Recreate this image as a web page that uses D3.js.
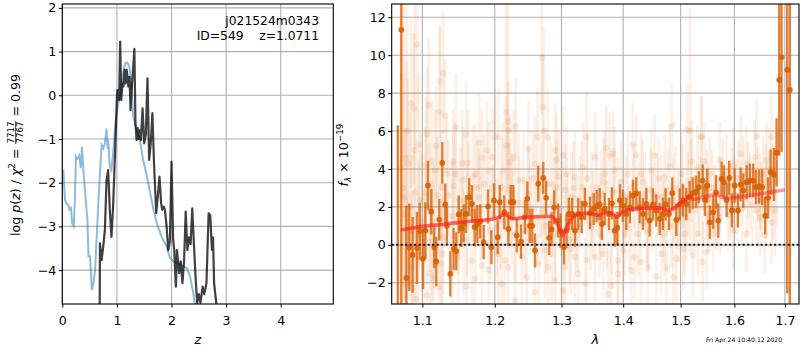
<!DOCTYPE html>
<html><head><meta charset="utf-8">
<script src="https://cdn.jsdelivr.net/npm/d3@7"></script>
<style>body{margin:0;background:#fff}svg text{font-family:"DejaVu Sans",sans-serif}</style>
</head><body><svg id="c" width="800" height="350"></svg>
<script>
// ---------- DATA ----------
const zTicks = [0,1,2,3,4];
const lpTicks = [-4,-3,-2,-1,0,1,2];
const lamTicks = [1.1,1.2,1.3,1.4,1.5,1.6,1.7];
const fTicks = [-2,0,2,4,6,8,10,12];

const pzBlue = [[0.00,-1.79],[0.02,-1.75],[0.05,-2.40],[0.08,-2.49],[0.11,-2.50],[0.13,-2.62],[0.16,-2.58],[0.18,-2.93],[0.21,-3.00],[0.23,-2.40],[0.25,-1.40],[0.28,-1.45],[0.31,-1.38],[0.34,-1.67],[0.36,-1.18],[0.39,-1.78],[0.43,-2.40],[0.46,-2.85],[0.48,-3.69],[0.51,-3.69],[0.54,-4.46],[0.57,-4.30],[0.60,-4.00],[0.63,-3.24],[0.66,-2.47],[0.69,-1.78],[0.72,-1.14],[0.75,-1.21],[0.78,-1.10],[0.81,-0.76],[0.83,-1.23],[0.84,-1.02],[0.87,-1.63],[0.90,-1.71],[0.93,-1.33],[0.98,-0.57],[1.03,-0.15],[1.07,0.05],[1.10,0.43],[1.15,0.73],[1.19,0.75],[1.23,0.65],[1.27,0.12],[1.30,-0.49],[1.36,-0.79],[1.42,-1.02],[1.48,-1.48],[1.55,-1.86],[1.61,-2.24],[1.67,-2.62],[1.73,-2.93],[1.82,-3.24],[1.91,-3.46],[1.97,-3.72],[2.05,-3.82],[2.16,-3.88],[2.28,-3.95],[2.34,-4.15],[2.40,-4.53],[2.44,-4.90],[2.47,-5.40]];

const pzDark = [[0.680,-5.5],[0.685,-4.75],[0.69,-3.39],[0.72,-3.77],[0.75,-3.46],[0.78,-3.08],[0.81,-1.94],[0.84,-1.71],[0.87,-2.62],[0.90,-3.24],[0.93,-2.55],[0.97,-1.18],[1.00,-0.03],[1.01,0.12],[1.04,-0.11],[1.06,1.23],[1.08,-0.11],[1.10,0.27],[1.12,0.20],[1.14,0.58],[1.16,0.27],[1.18,0.58],[1.21,0.20],[1.23,0.42],[1.25,-0.34],[1.27,0.12],[1.32,1.06],[1.34,-0.64],[1.36,-1.02],[1.38,-0.75],[1.40,-1.00],[1.42,-0.80],[1.44,-1.02],[1.47,-0.30],[1.50,-1.10],[1.53,-0.90],[1.56,0.39],[1.59,-1.48],[1.62,-1.10],[1.65,-0.41],[1.68,-1.56],[1.72,-2.70],[1.75,-2.30],[1.78,-1.86],[1.81,-2.47],[1.83,-2.62],[1.86,-2.55],[1.88,-2.62],[1.91,-3.00],[1.94,-3.54],[1.97,-3.35],[2.00,-1.52],[2.03,-3.31],[2.05,-3.54],[2.08,-4.38],[2.10,-3.54],[2.14,-4.07],[2.17,-3.80],[2.20,-4.30],[2.23,-3.80],[2.26,-2.66],[2.29,-3.54],[2.32,-3.25],[2.35,-3.40],[2.38,-2.59],[2.41,-3.40],[2.44,-4.15],[2.47,-4.76],[2.50,-4.55],[2.53,-4.75],[2.57,-4.38],[2.60,-4.55],[2.64,-4.30],[2.68,-2.70],[2.71,-2.75],[2.74,-3.54],[2.76,-3.25],[2.78,-4.30],[2.82,-4.76],[2.84,-5.5]];

// [lambda, flux, error]
const specStrong = [[1.0681,-4.0,10.3],[1.0726,11.34,15],[1.0791,-1.74,3.8],[1.0829,-0.13,2.3],[1.0873,-0.53,2.0],[1.0930,-0.16,1.9],[1.0966,0.72,1.5],[1.1009,-0.74,1.6],[1.1040,0.75,1.5],[1.1075,3.13,1.3],[1.1119,1.75,1.2],[1.1159,-0.13,1.1],[1.1186,-0.88,1.3],[1.1226,1.33,1.1],[1.1267,4.32,1.1],[1.1307,2.13,1.1],[1.1330,1.00,1.0],[1.1376,-1.53,1.2],[1.1422,-0.21,1.1],[1.1458,-0.34,1.0],[1.1491,1.60,1.0],[1.1527,0.88,1.0],[1.1560,1.14,1.0],[1.1593,1.63,1.0],[1.1638,2.51,1.0],[1.1676,2.16,1.0],[1.1714,0.93,1.0],[1.1751,1.10,1.0],[1.1793,1.24,0.9],[1.1841,0.14,0.9],[1.1903,2.02,0.9],[1.1950,-0.13,0.9],[1.1989,2.34,0.9],
[1.2042,0.40,0.9],[1.2071,2.25,0.9],[1.2138,1.72,0.9],[1.2197,0.84,0.9],[1.2232,2.25,0.9],[1.2270,2.25,0.9],[1.2320,0.49,0.9],[1.2384,0.17,0.9],[1.2443,1.46,0.9],[1.2478,2.44,0.9],[1.2514,1.00,0.9],[1.2553,1.00,0.9],[1.2593,-0.30,0.9],[1.2643,3.22,0.95],[1.2719,3.53,0.85],[1.2764,2.48,0.9],[1.2810,0.37,0.9],[1.2847,0.82,0.9],[1.2887,1.98,0.9],[1.2949,1.28,0.9],[1.2986,0.75,0.9],[1.3038,-0.13,0.9],[1.3080,0.75,0.9],[1.3116,1.63,0.85],[1.3168,1.63,0.85],[1.3213,0.75,0.85],[1.3265,1.63,0.85],[1.3319,1.46,0.85],[1.3372,2.16,0.85],[1.3453,1.68,0.85],[1.3513,1.90,0.85],[1.3561,2.04,0.85],
[1.3610,2.13,0.85],[1.3647,1.10,0.85],[1.3692,1.90,0.85],[1.3763,1.63,0.85],[1.3813,2.19,0.85],[1.3858,0.75,0.85],[1.3901,0.90,0.85],[1.3946,2.34,0.85],[1.3996,2.07,0.85],[1.4052,1.63,0.85],[1.4114,1.98,0.85],[1.4165,2.60,0.85],[1.4221,2.72,0.85],[1.4280,1.98,0.85],[1.4337,1.63,0.85],[1.4394,2.16,0.85],[1.4452,1.28,0.85],[1.4509,2.13,0.85],[1.4567,1.81,0.85],[1.4627,1.37,0.85],[1.4685,1.63,0.85],[1.4732,2.13,0.85],[1.4791,1.63,0.85],[1.4850,2.72,0.85],[1.4921,1.32,0.85],[1.4982,2.13,0.85],[1.5041,2.34,0.85],[1.5101,2.16,0.85],[1.5162,2.51,0.85],[1.5222,2.72,0.85],[1.5282,2.80,0.85],[1.5332,3.04,0.85],
[1.5401,3.39,0.85],[1.5444,2.37,0.85],[1.5487,3.13,0.9],[1.5536,1.19,0.9],[1.5599,1.72,0.9],[1.5649,2.77,0.9],[1.5692,1.28,0.9],[1.5756,3.48,0.9],[1.5800,3.30,0.9],[1.5851,2.37,0.9],[1.5900,3.53,0.9],[1.5952,1.81,0.9],[1.6004,3.13,0.9],[1.6068,1.81,0.9],[1.6120,3.18,0.9],[1.6171,2.86,0.9],[1.6236,3.30,0.9],[1.6300,3.39,0.9],[1.6365,3.39,0.9],[1.6418,3.04,0.9],[1.6483,3.07,0.9],[1.6543,3.04,0.95],[1.6602,1.54,1.0],[1.6662,2.48,1.1],[1.6710,3.83,1.2],[1.6777,3.71,1.4],[1.6831,4.87,1.8],[1.6884,8.70,4.0],[1.6932,9.89,5.0],[1.7047,9.23,11.8],[1.7101,8.17,14]];

const specFaint = [[1.0930,10.57,4.0],[1.0853,7.47,4.5],[1.0887,7.17,4.0],[1.1085,7.38,3.5],[1.1238,8.63,3.0],[1.1279,9.05,3.2],[1.1307,6.8,3.0],[1.0787,4.57,5.0],[1.0813,4.27,4.5],[1.0953,5.29,3.8],[1.1062,5.85,3.5],[1.1186,5.2,3.2],[1.1453,6.2,2.8],[1.1593,5.82,2.8],[1.1779,5.38,2.6],[1.1888,4.97,2.6],[1.1999,5.68,2.6],[1.1817,4.59,2.6],[1.1413,4.36,2.8],[1.1537,4.3,2.8],[1.1620,4.3,2.8],[1.1722,3.74,2.7],[1.1444,3.74,2.8],[1.1330,3.74,3.0],[1.1172,3.92,3.2],[1.0908,2.77,3.8],[1.1040,2.72,3.5],[1.0778,1.63,4.5],[1.1129,4.45,3.2],[1.1959,4.62,2.6],[1.1913,3.92,2.6],[1.1747,3.04,2.7],[1.1513,2.34,2.8],[1.1262,3.04,3.0],[1.0974,2.34,3.6],[1.0864,0.75,4.0],[1.1129,0.23,3.2],[1.1262,-0.47,3.0],[1.1490,-0.65,2.8],[1.1106,-1.53,3.2],[1.1151,-1.79,3.2],[1.1817,-1.09,2.6],[1.1913,-1.32,2.6],[1.1722,-1.79,2.7],[1.0917,-2.85,3.8],[1.1062,-2.67,3.5],[1.1399,-1.36,2.9],[1.1676,-0.83,2.7],[1.1218,-2.24,3.0],[1.0864,-1.18,4.0],[1.1018,-0.47,3.6],[1.1560,0.23,2.8],[1.1935,0.75,2.6],[1.1630,2.69,2.7],
[1.2695,9.86,3.0],[1.2710,7.26,2.8],[1.2633,5.68,2.6],[1.2786,5.68,2.6],[1.2196,6.03,2.6],[1.2305,6.24,2.6],[1.2051,5.68,2.6],[1.2172,5.24,2.6],[1.2221,4.36,2.5],[1.2493,5.06,2.5],[1.2899,4.97,2.5],[1.2925,4.48,2.5],[1.3028,4.71,2.6],[1.3081,3.74,2.5],[1.3213,3.57,2.4],[1.3399,5.68,2.4],[1.3534,4.62,2.4],[1.3345,4.09,2.4],[1.2344,3.39,2.5],[1.2593,4.27,2.5],[1.2100,3.04,2.6],[1.2925,3.04,2.5],[1.2493,2.69,2.5],[1.2246,2.34,2.5],[1.3160,2.51,2.4],[1.3319,3.04,2.4],[1.3481,2.51,2.4],[1.2027,0.93,2.6],[1.2295,0.58,2.5],[1.2443,0.75,2.5],[1.2899,0.58,2.5],[1.2148,-0.83,2.6],[1.2394,-0.65,2.5],[1.2745,-0.3,2.5],[1.2847,-0.47,2.5],[1.3213,-0.65,2.4],[1.3534,-0.65,2.4],[1.2100,-2.06,2.6],[1.2196,-1.18,2.6],[1.2468,-1.71,2.5],[1.2795,-1.18,2.5],[1.3055,-1.18,2.5],[1.3265,-1.53,2.4],[1.2593,-2.5,2.5],[1.3028,-2.41,2.6],[1.3372,-2.06,2.4],[1.2295,-2.94,2.5],
[1.4844,6.28,2.2],[1.5119,6.07,2.4],[1.3718,5.1,2.3],[1.3830,4.8,2.3],[1.3774,4.71,2.3],[1.4165,5.29,2.2],[1.4221,4.71,2.2],[1.4539,4.71,2.2],[1.5305,4.09,2.2],[1.5375,5.68,2.2],[1.3692,3.74,2.3],[1.3858,3.92,2.3],[1.4080,3.74,2.2],[1.4307,3.74,2.2],[1.4480,3.92,2.2],[1.4714,3.57,2.2],[1.4802,4.13,2.2],[1.5011,3.74,2.2],[1.5192,3.39,2.2],[1.3637,2.69,2.3],[1.3913,2.34,2.3],[1.4365,2.69,2.2],[1.4655,2.51,2.2],[1.4869,2.34,2.2],[1.5132,2.69,2.2],[1.3610,0.58,2.3],[1.3802,0.75,2.3],[1.4025,0.58,2.2],[1.4250,0.58,2.2],[1.4422,0.75,2.2],[1.4714,0.58,2.2],[1.5072,0.58,2.2],[1.5317,0.58,2.2],[1.3664,-0.47,2.3],[1.3913,-0.83,2.3],[1.4194,-0.65,2.2],[1.4422,-1.18,2.2],[1.4655,-0.47,2.2],[1.4922,-0.74,2.2],[1.5222,-0.56,2.2],[1.3802,-2.15,2.3],[1.3913,-1.53,2.3],[1.4137,-1.36,2.2],[1.4567,-1.67,2.2],[1.4869,-1.71,2.2],[1.3747,-2.59,2.3],
[1.5382,5.71,2.1],[1.6126,4.8,2.0],[1.6431,5.71,2.0],[1.6730,5.68,2.2],[1.5724,4.48,2.0],[1.5977,4.18,2.0],[1.6236,4.27,2.0],[1.6398,4.62,2.0],[1.6630,4.48,2.0],[1.5536,3.74,2.0],[1.5851,3.83,2.0],[1.6171,3.74,2.0],[1.6563,3.74,2.0],[1.5475,3.04,2.0],[1.5724,2.69,2.0],[1.6042,2.51,2.0],[1.6300,2.86,2.0],[1.6630,2.34,2.0],[1.6831,3.39,2.5],[1.5413,1.98,2.0],[1.5630,2.25,2.0],[1.5914,2.25,2.0],[1.6431,1.81,2.0],[1.6730,1.19,2.2],[1.6497,1.46,2.0],[1.5475,-0.39,2.0],[1.6596,0.49,2.0],[1.6797,1.81,2.4],[1.5599,0.58,2.0],[1.5977,0.75,2.0],[1.6236,0.58,2.0],[1.5724,1.46,2.0],
[1.0720,4.0,9.0],[1.0760,2.5,10.5],[1.0800,6.0,7.5],[1.0900,5.0,8.0],[1.1230,7.0,4.5],[1.2160,7.0,6.0],[1.2190,6.5,6.5],[1.2730,6.0,5.5],[1.5170,6.0,6.5],
[1.1000,1.2,3.6],[1.1400,1.5,2.9],[1.1800,1.8,2.6],[1.2250,1.5,2.5],[1.2700,1.8,2.5],[1.3100,1.4,2.4],[1.3500,1.6,2.3],[1.4000,1.9,2.2],[1.4500,1.8,2.2],[1.4950,2.0,2.2],[1.5500,2.4,2.0],[1.6000,2.6,2.0],[1.6500,2.8,2.0],
[1.0750,3.0,6.0],[1.0840,2.0,5.0],[1.0950,0.5,4.0],[1.1050,4.2,3.6],[1.1100,2.0,3.4],[1.1150,1.0,3.3],[1.1200,2.6,3.1],[1.1280,0.4,3.0],[1.1350,2.6,2.9],[1.1420,3.1,2.8],[1.1480,1.2,2.8],[1.1550,3.4,2.8],[1.1610,1.1,2.7],[1.1690,3.6,2.7],[1.1770,2.5,2.6],[1.1850,3.2,2.6],[1.1970,1.6,2.6],[1.2080,1.3,2.6],[1.2120,3.9,2.6],[1.2210,2.9,2.5],[1.2280,4.6,2.5],[1.2360,2.2,2.5],[1.2420,3.4,2.5],[1.2520,2.0,2.5],[1.2560,3.5,2.5],[1.2620,1.4,2.5],[1.2680,2.9,2.5],[1.2760,1.0,2.5],[1.2830,3.2,2.5],[1.2870,2.2,2.5],[1.2960,3.6,2.5],[1.3000,1.9,2.5],[1.3060,2.9,2.4],[1.3130,0.3,2.4],[1.3190,3.0,2.4],[1.3240,1.0,2.4],[1.3290,2.3,2.4],[1.3410,3.5,2.4],[1.3460,0.9,2.3],[1.3570,3.0,2.3],[1.3620,1.5,2.3],[1.3680,3.3,2.3],[1.3730,1.1,2.3],[1.3850,2.8,2.3],[1.3960,3.3,2.2],[1.4050,2.5,2.2],[1.4100,0.9,2.2],[1.4180,3.1,2.2],[1.4270,2.2,2.2],[1.4330,3.3,2.2],[1.4400,1.2,2.2],[1.4470,2.9,2.2],[1.4580,2.6,2.2],[1.4610,3.5,2.2],[1.4690,1.2,2.2],[1.4760,2.9,2.2],[1.4830,1.0,2.2],[1.4900,3.0,2.2],[1.4970,1.3,2.2],[1.5040,3.1,2.2],[1.5100,1.4,2.2],[1.5200,4.4,2.2],[1.5260,1.8,2.2],[1.5340,2.6,2.1],[1.5430,4.4,2.1],[1.5520,1.6,2.0],[1.5580,3.0,2.0],[1.5660,1.7,2.0],[1.5780,3.6,2.0],[1.5880,1.6,2.0],[1.5950,3.1,2.0],[1.6080,3.5,2.0],[1.6150,1.9,2.0],[1.6270,3.4,2.0],[1.6350,2.1,2.0],[1.6460,3.2,2.0],[1.6530,2.4,2.0],[1.6610,3.3,2.0],[1.6690,4.0,2.2],[1.6760,2.8,2.5],
[1.0800,-2.0,4.5],[1.1250,-1.0,3.0],[1.1600,-2.2,2.7],[1.2050,-0.5,2.6],[1.2650,-1.0,2.5],[1.2900,-1.9,2.5],[1.3150,-0.2,2.4],[1.3400,-0.8,2.4],[1.4000,-0.3,2.2],[1.4300,-0.9,2.2],[1.4750,-1.2,2.2],[1.5050,-0.2,2.2],[1.5400,-0.9,2.1]];

const model = [[1.0722,0.79],[1.1013,0.98],[1.1325,1.10],[1.1648,1.25],[1.1980,1.37],[1.2051,1.44],[1.2148,1.63],[1.2172,1.55],[1.2260,1.37],[1.2342,1.40],[1.2518,1.47],[1.2719,1.50],[1.2847,1.50],[1.2925,1.19],[1.3003,0.58],[1.3020,0.46],[1.3044,0.67],[1.3107,1.10],[1.3213,1.55],[1.3345,1.67],[1.3507,1.63],[1.3588,1.55],[1.3697,1.72],[1.3808,1.67],[1.3901,1.46],[1.3946,1.63],[1.4030,1.81],[1.4285,1.90],[1.4574,1.95],[1.4690,1.90],[1.4778,1.81],[1.4867,1.90],[1.5017,2.25],[1.5107,2.42],[1.5156,2.60],[1.5228,2.39],[1.5413,2.51],[1.5662,2.65],[1.5756,2.51],[1.5914,2.48],[1.6171,2.55],[1.6431,2.65],[1.6696,2.77],[1.7000,2.90]];

// ---------- DRAW ----------
const svg = d3.select("#c");
const FS = 12.6;
const minus = v => String(v).replace("-", "\u2212");

// Left panel
const L = {x0:62.3, x1:333.3, y0:4, y1:304};
const xz = d3.scaleLinear().domain([0,4.963]).range([L.x0,L.x1]);
const ylp = d3.scaleLinear().domain([-4.776,2.089]).range([L.y1,L.y0]);

// Right panel
const R = {x0:391.7, x1:799, y0:4, y1:304};
const xl = d3.scaleLog().domain([1.0603,1.729]).range([R.x0,R.x1]);
const yf = d3.scaleLinear().domain([-3.12,12.7]).range([R.y1,R.y0]);

const defs = svg.append("defs");
defs.append("clipPath").attr("id","cl").append("rect").attr("x",L.x0).attr("y",L.y0).attr("width",L.x1-L.x0).attr("height",L.y1-L.y0);
defs.append("clipPath").attr("id","cr").append("rect").attr("x",R.x0).attr("y",R.y0).attr("width",R.x1-R.x0).attr("height",R.y1-R.y0);

function grid(g, xs, ys, xt, yt, P){
  g.selectAll(".gx").data(xt).join("line").attr("x1",d=>xs(d)).attr("x2",d=>xs(d)).attr("y1",P.y0).attr("y2",P.y1)
    .attr("stroke","#b0b0b0").attr("stroke-width",1.1);
  g.selectAll(".gy").data(yt).join("line").attr("class","gy").attr("y1",d=>ys(d)).attr("y2",d=>ys(d)).attr("x1",P.x0).attr("x2",P.x1)
    .attr("stroke","#b0b0b0").attr("stroke-width",1.1);
}
function axes(xs, ys, xt, yt, P, xfmt){
  const ax = svg.append("g").attr("transform",`translate(0,${P.y1})`)
    .call(d3.axisBottom(xs).tickValues(xt).tickSize(3.5).tickPadding(9).tickFormat(xfmt));
  const ay = svg.append("g").attr("transform",`translate(${P.x0},0)`)
    .call(d3.axisLeft(ys).tickValues(yt).tickSize(3.5).tickPadding(2.5).tickFormat(minus));
  [ax,ay].forEach(a=>{
    a.select(".domain").remove();
    a.selectAll("text").attr("font-size",FS).attr("font-family","DejaVu Sans").attr("fill","#000");
    a.selectAll("line").attr("stroke","#000").attr("stroke-width",1);
  });
  svg.append("rect").attr("x",P.x0).attr("y",P.y0).attr("width",P.x1-P.x0).attr("height",P.y1-P.y0)
    .attr("fill","none").attr("stroke","#000").attr("stroke-width",1.1);
}

// ---- left ----
const gl = svg.append("g");
grid(gl, xz, ylp, zTicks, lpTicks, L);
const lineL = d3.line().x(d=>xz(d[0])).y(d=>ylp(d[1]));
const gc = svg.append("g").attr("clip-path","url(#cl)");
gc.append("path").datum(pzBlue).attr("d",lineL).attr("fill","none").attr("stroke","#1f77b4").attr("stroke-opacity",0.5).attr("stroke-width",2);
gc.append("path").datum(pzDark).attr("d",lineL).attr("fill","none").attr("stroke","#000").attr("stroke-opacity",0.75).attr("stroke-width",2.2).attr("stroke-linejoin","round");
axes(xz, ylp, zTicks, lpTicks, L, d=>String(d));
svg.append("text").attr("x",319).attr("y",25).attr("text-anchor","end").attr("font-size",12.3).text("j021524m0343");
svg.append("text").attr("x",319).attr("y",40).attr("text-anchor","end").attr("font-size",12.3).text("ID=549\u00a0\u00a0\u00a0\u00a0z=1.0711");

// ---- right ----
const gr = svg.append("g");
grid(gr, xl, yf, lamTicks, fTicks, R);
const gd = svg.append("g").attr("clip-path","url(#cr)");
const OR = "#d95f02";
gd.selectAll(".fb").data(specFaint).join("line").attr("x1",d=>xl(d[0])).attr("x2",d=>xl(d[0]))
  .attr("y1",d=>yf(d[1]-d[2])).attr("y2",d=>yf(d[1]+d[2])).attr("stroke","#e8843a").attr("stroke-opacity",0.12).attr("stroke-width",2.8);
gd.selectAll(".fd").data(specFaint).join("circle").attr("cx",d=>xl(d[0])).attr("cy",d=>yf(d[1])).attr("r",3.3)
  .attr("fill","#e8843a").attr("fill-opacity",0.16);
gd.selectAll(".sb").data(specStrong).join("line").attr("x1",d=>xl(d[0])).attr("x2",d=>xl(d[0]))
  .attr("y1",d=>yf(d[1]-d[2])).attr("y2",d=>yf(d[1]+d[2])).attr("stroke",OR).attr("stroke-opacity",0.78).attr("stroke-width",2.4);
gd.selectAll(".sd").data(specStrong).join("circle").attr("cx",d=>xl(d[0])).attr("cy",d=>yf(d[1])).attr("r",2.9)
  .attr("fill",OR).attr("fill-opacity",0.9);
const lineR = d3.line().x(d=>xl(d[0])).y(d=>yf(d[1])).curve(d3.curveMonotoneX);
gd.append("path").datum(model).attr("d",lineR).attr("fill","none").attr("stroke","#ff2020").attr("stroke-opacity",0.45).attr("stroke-width",3.5).attr("stroke-linejoin","round");
gd.append("path").datum(model.filter(d=>d[0]<=1.52)).attr("d",lineR).attr("fill","none").attr("stroke","#ff2020").attr("stroke-opacity",0.4).attr("stroke-width",3.5).attr("stroke-linejoin","round");
gd.append("line").attr("x1",R.x0).attr("x2",R.x1).attr("y1",yf(0)).attr("y2",yf(0))
  .attr("stroke","#111").attr("stroke-width",2).attr("stroke-dasharray","2,2.5");
axes(xl, yf, lamTicks, fTicks, R, d=>d3.format(".1f")(d));

// ---- labels ----
svg.append("text").attr("x",(L.x0+L.x1)/2).attr("y",344).attr("text-anchor","middle").attr("font-size",13).attr("font-style","italic").text("z");
svg.append("text").attr("x",(R.x0+R.x1)/2).attr("y",344).attr("text-anchor","middle").attr("font-size",13).attr("font-style","italic").text("λ");
svg.append("text").attr("x",744).attr("y",342).attr("text-anchor","middle").attr("font-size",6.1).text("Fri Apr 24 10:40:12 2020");

// right ylabel
const ry = svg.append("text").attr("transform","translate(348,155) rotate(-90)").attr("text-anchor","middle").attr("font-size",FS);
ry.append("tspan").attr("font-style","italic").text("f");
ry.append("tspan").attr("font-style","italic").attr("font-size",8.8).attr("dy",2.5).text("λ");
ry.append("tspan").attr("dy",-2.5).text("\u00a0×\u00a010");
ry.append("tspan").attr("font-size",8.8).attr("dy",-5.5).text("\u221219");

// left ylabel (mathtext-like)
const gy = svg.append("g");
const t1 = gy.append("text").attr("font-size",FS);
t1.append("tspan").text("log\u00a0");
t1.append("tspan").attr("font-style","italic").text("p");
t1.append("tspan").text("(");
t1.append("tspan").attr("font-style","italic").text("z");
t1.append("tspan").text(")\u00a0/\u00a0");
t1.append("tspan").attr("font-style","italic").text("χ");
t1.append("tspan").attr("font-size",8.8).attr("dy",-5).text("2");
t1.append("tspan").attr("dy",5).text("\u00a0=\u00a0");
const w1 = t1.node().getComputedTextLength();
const num = gy.append("text").attr("font-size",8.6).attr("y",-6).text("7717");
const den = gy.append("text").attr("font-size",8.6).attr("y",2.8).text("7767");
const wf = Math.max(num.node().getComputedTextLength(), den.node().getComputedTextLength());
num.attr("x",w1+1); den.attr("x",w1+1);
gy.append("line").attr("x1",w1+0.5).attr("x2",w1+wf+1.5).attr("y1",-4.4).attr("y2",-4.4).attr("stroke","#000").attr("stroke-width",0.7);
const t2 = gy.append("text").attr("font-size",FS).attr("x",w1+wf+2).text("\u00a0=\u00a00.99");
const total = w1+wf+2+t2.node().getComputedTextLength();
gy.attr("transform",`translate(20,${155+total/2}) rotate(-90)`);
</script></body></html>
